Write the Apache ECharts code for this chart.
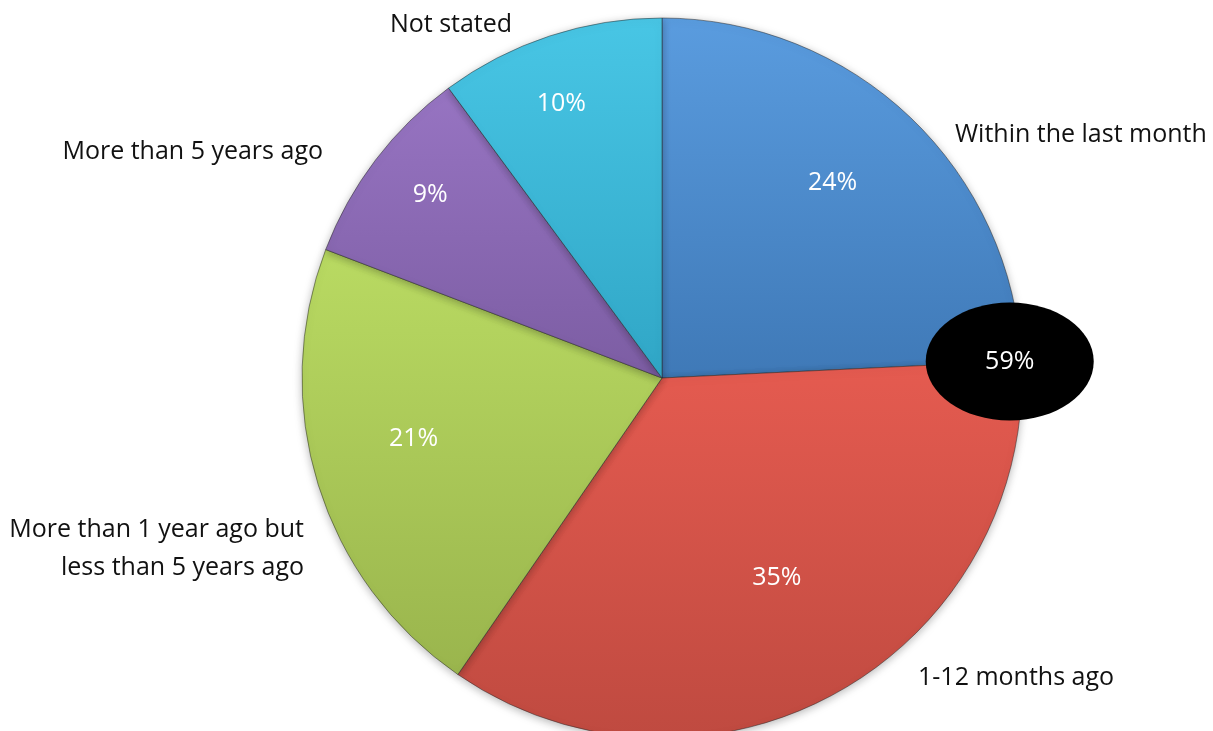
<!DOCTYPE html>
<html>
<head>
<meta charset="utf-8">
<script src="https://cdn.jsdelivr.net/npm/echarts@6/dist/echarts.min.js"></script>
<style>
  html, body { margin: 0; padding: 0; background: #fff; }
  #chart { width: 1213px; height: 731px; }
</style>
</head>
<body>
<div id="chart"></div>
<script>
// When respondents last did it (share of respondents, %)
const categories = [
  'Within the last month',
  '1-12 months ago',
  'More than 1 year ago but\nless than 5 years ago',
  'More than 5 years ago',
  'Not stated'
];
const values = [24, 35, 21, 9, 10];
// Highlighted group: the first two categories (within the last 12 months)
const highlightIdx = [0, 1];

// Slice colours: light top, dark bottom
const sliceColors = [
  ['#5A9CDF', '#3F79B7'],
  ['#E55B50', '#BF4A40'],
  ['#B9DA62', '#9AB54D'],
  ['#9774C2', '#7C5DA3'],
  ['#48C6E5', '#30A6C6']
];

// Label placement (style only)
const innerLabelPolar = [ // [radius fraction, angle offset in degrees]
  [0.72, -2.5], [0.64, -0.8], [0.71, 3.6], [0.82, 1.0], [0.81, -2.0]
];
const outerLabelPos = [ // [x, y, align]
  [955, 135, 'left'],
  [918, 678, 'left'],
  [304, 549, 'right'],
  [323, 152, 'right'],
  [451, 25, 'center']
];

const CX = 662, CY = 378, R = 360;
const total = values.reduce((a, b) => a + b, 0);

// cumulative start angles (degrees, clockwise from 12 o'clock)
const startAngles = [];
values.reduce((acc, v, i) => { startAngles[i] = acc; return acc + v / total * 360; }, 0);

function polar(rad, deg) {
  const a = deg * Math.PI / 180;
  return [CX + rad * Math.sin(a), CY - rad * Math.cos(a)];
}

const chart = echarts.init(document.getElementById('chart'), null, { renderer: 'canvas' });

const data = categories.map((name, i) => ({
  name: name,
  value: values[i],
  itemStyle: {
    color: new echarts.graphic.LinearGradient(0, 0, 0, 1, [
      { offset: 0, color: sliceColors[i][0] },
      { offset: 1, color: sliceColors[i][1] }
    ])
  }
}));

// highlight ellipse at the edge between the first and second slice
const hlSum = highlightIdx.reduce((a, i) => a + values[i], 0);
const hlAngle = startAngles[highlightIdx[1]];
const hlPos = polar(R * 0.967, hlAngle);

const FONT = "'Open Sans', 'Noto Sans', sans-serif";
const FS = 25;

const option = {
  backgroundColor: '#ffffff',
  animation: false,
  series: [
    {
      type: 'pie',
      center: [CX, CY],
      radius: [0, R],
      startAngle: 90,
      clockwise: true,
      avoidLabelOverlap: false,
      silent: true,
      itemStyle: {
        borderColor: 'rgba(40,40,40,0.5)',
        borderWidth: 1,
        shadowBlur: 8,
        shadowColor: 'rgba(0,0,0,0.28)',
        shadowOffsetY: 2
      },
      label: {
        show: true,
        position: 'inside',
        formatter: p => p.value + '%',
        color: '#ffffff',
        fontFamily: FONT,
        fontSize: FS
      },
      labelLine: { show: false },
      labelLayout: function (p) {
        const i = p.dataIndex;
        const mid = startAngles[i] + values[i] / total * 180 + innerLabelPolar[i][1];
        const pt = polar(R * innerLabelPolar[i][0], mid);
        return { x: pt[0], y: pt[1], align: 'center', verticalAlign: 'middle' };
      },
      data: data
    },
    {
      type: 'pie',
      center: [CX, CY],
      radius: [0, R],
      startAngle: 90,
      clockwise: true,
      avoidLabelOverlap: false,
      silent: true,
      itemStyle: { color: 'rgba(0,0,0,0)', borderWidth: 0 },
      label: {
        show: true,
        position: 'outside',
        formatter: p => p.name,
        color: '#111111',
        fontFamily: FONT,
        fontSize: FS,
        lineHeight: 38
      },
      labelLine: { show: false },
      labelLayout: function (p) {
        const o = outerLabelPos[p.dataIndex];
        return { x: o[0], y: o[1], align: o[2], verticalAlign: 'middle' };
      },
      data: categories.map((name, i) => ({ name: name, value: values[i] }))
    }
  ],
  graphic: [
    {
      type: 'ellipse',
      z: 100,
      shape: { cx: hlPos[0], cy: hlPos[1], rx: 84, ry: 59 },
      style: { fill: '#000000' }
    },
    {
      type: 'text',
      z: 101,
      x: hlPos[0],
      y: hlPos[1],
      style: {
        text: hlSum + '%',
        fill: '#ffffff',
        font: FS + "px 'Open Sans', 'Noto Sans', sans-serif",
        align: 'center',
        verticalAlign: 'middle'
      }
    }
  ]
};

chart.setOption(option);
</script>
</body>
</html>
